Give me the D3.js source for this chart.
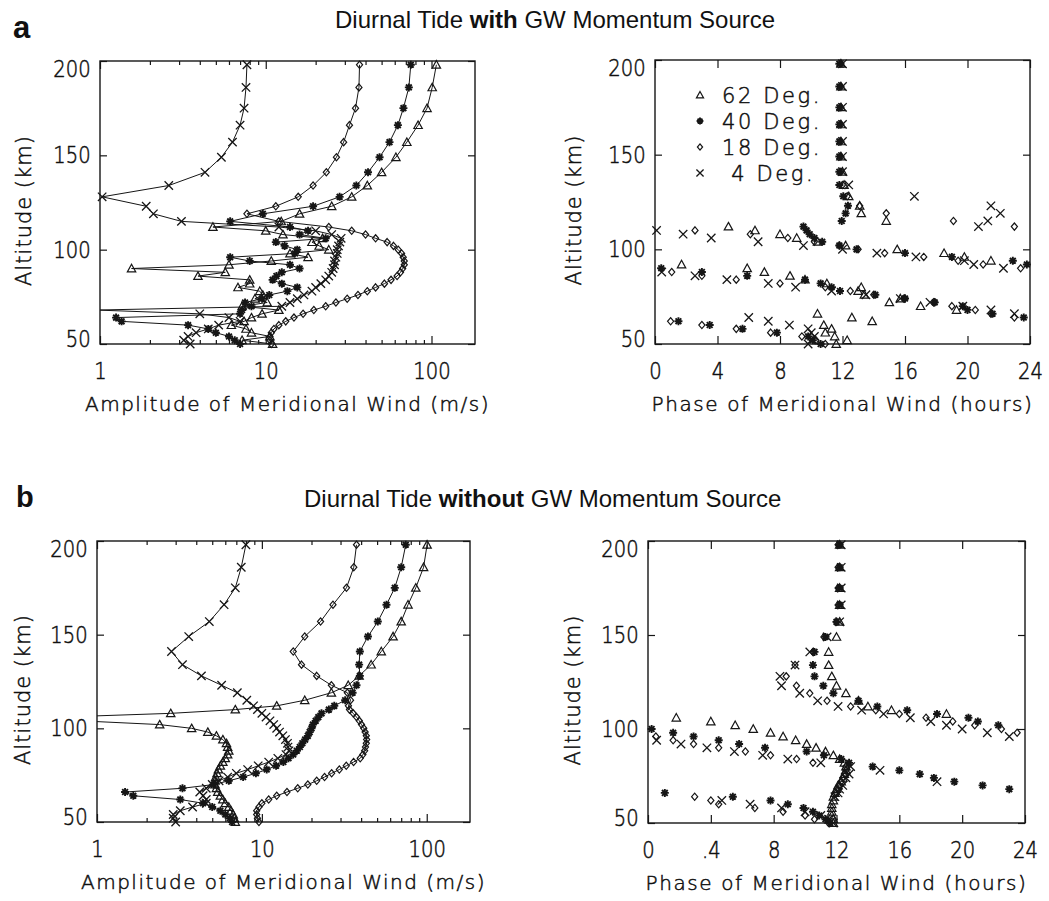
<!DOCTYPE html>
<html>
<head>
<meta charset="utf-8">
<script src="https://cdn.jsdelivr.net/npm/d3@7/dist/d3.min.js"></script>
<style>
  html, body { margin: 0; padding: 0; background: #ffffff; }
  svg { display: block; }
  .tick text { font-family: "DejaVu Sans", sans-serif; font-size: 23px; font-weight: 200; fill: #111; stroke: #111; stroke-width: 0.55px; }
  .axis-title { font-family: "DejaVu Sans", sans-serif; font-weight: 200; fill: #111; stroke: #111; stroke-width: 0.5px; }
  .legend text { font-family: "DejaVu Sans", sans-serif; font-size: 21px; font-weight: 200; fill: #111; stroke: #111; stroke-width: 0.5px; white-space: pre; }
  .panel-title { font-family: "Liberation Sans", Arial, sans-serif; fill: #111; }
</style>
</head>
<body>
<svg id="chart" width="1049" height="901"></svg>
<script>
// ---------------- DATA ----------------
const ALTITUDE = [50,52,54,56,58,60,62,64,66,68,70,72,74,76,78,80,82,84,86,88,90,92,94,96,98,100,102,104,106,108,110,112,115,119,123,128,134,141,149,157,166,175,186,198];

// (a) with GW momentum source: amplitude of meridional wind (m/s)
const AMP_A_62 = [11,7.2,10.6,8.2,7.6,6.2,7.4,8.2,9.5,12,7.2,10.2,8.6,9.6,9.2,6.8,8.0,8.0,3.9,5.7,1.55,6,10.8,18,14,24,21,19,22,12.7,10,4.8,12.4,16,25,33,41,50,61,71,83,94,101,107];
const AMP_A_40 = [7.0,6.5,6.0,5.0,4.5,3.4,1.35,1.25,7.0,7.2,8.2,7.5,9.5,10.5,13.5,15.5,12.5,11,11.6,12.5,16,14,8,6.1,15,15.5,13,11.5,23,16,18,14,6.1,9.6,19.3,27.9,35.2,41.4,48.6,55.8,62.7,67.7,73,75];
const AMP_A_18 = [10.8,10.6,10.6,10.8,11.2,12,13.2,14.8,16.8,19.5,23,26.5,31,36,41,46,52,57,62,65,67,68.5,68.5,67.5,66,63,59,54,46,40,33,24,12,7.7,11.5,15.7,19.3,23.2,26.7,29.5,32,34.8,36.5,36.8];
const AMP_A_4  = [3.5,3.2,3.4,3.8,4.5,5.2,7.0,6.0,4.0,0.95,12.5,14,15.5,17,19,20,21.5,23,24,25,25.5,26,26,26.5,27,27,27.5,28,28.5,25,20,12,3.1,2.1,1.9,1.03,2.6,4.3,5.4,6.3,7.0,7.4,7.6,7.7];

// (a) with GW momentum source: phase of meridional wind (hours)
const PH_A_62 = [11.6,12.3,11.5,10.9,11.3,10.8,13.9,12.6,10.4,19.3,17.0,15.0,15.7,13.4,13.0,13.2,11.0,9.6,8.64,7.0,5.9,1.7,21.5,19.8,18.5,15.5,12.2,10.4,9.07,8.0,6.4,4.7,14.8,13.2,13.1,12.4,12.1,12.0,11.9,11.9,11.9,11.9,11.9,11.9];
const PH_A_40 = [10.6,10.1,9.8,7.8,5.6,3.5,1.5,23.6,21.6,20.0,19.7,17.9,16.0,14.1,11.84,11.3,10.6,9.6,5.9,3.0,0.4,23.8,22.9,19.0,16.0,12.9,11.8,10.7,10.2,9.9,9.7,9.5,11.95,12.2,12.35,12.05,11.8,11.8,11.8,11.8,11.8,11.8,11.8,11.8];
const PH_A_18 = [10.9,10.3,9.4,7.4,5.2,3.0,1.0,23.0,21.5,20.5,19.0,17.9,16.0,14.0,12.5,10.9,8.0,5.2,3.0,1.07,23.4,21.0,19.4,17.2,14.7,13.0,11.8,10.2,8.5,6.1,2.56,23.0,19.1,14.8,13.1,12.3,12.0,11.9,11.9,11.9,11.9,11.9,11.9,11.9];
const PH_A_4  = [9.8,10.0,10.2,10.0,9.8,8.6,7.25,6.0,23.0,21.5,19.7,17.6,15.7,13.5,11.3,9.0,7.25,4.6,2.56,0.43,22.3,20.4,19.8,16.7,14.2,12.0,9.5,6.6,3.6,1.8,0.1,20.7,21.3,22.1,21.5,16.6,12.4,12.0,12.0,12.0,12.0,12.0,12.0,12.0];

// (b) without GW momentum source: amplitude (m/s)
const AMP_B_62 = [6.9,6.8,6.7,6.5,6.3,6.0,5.8,5.6,5.4,5.3,5.2,5.2,5.25,5.35,5.45,5.6,5.8,6.0,6.2,6.3,6.2,6.1,5.8,5.3,4.7,3.75,2.4,0.8,0.6,2.8,6.9,12.3,18.2,26.4,33.4,38.9,46,53,62.5,70,77,85.8,95.7,100.5];
const AMP_B_40 = [6.6,6.4,6.0,5.6,5.0,4.4,3.2,1.66,1.48,3.3,5.1,6.3,7.7,9.2,10.7,12.2,13.5,14.5,15.5,16.3,17.0,17.6,18.3,19.0,19.5,20.0,20.4,21.2,22.0,23.0,25.5,27.5,32.0,35.5,37.5,39.3,38.9,39.3,44,50.5,57,64,70,74.6];
const AMP_B_18 = [9.6,9.4,9.3,9.3,9.6,10,11,12.3,14.2,16.5,19,21.5,24,26.5,29.5,32.5,36,39.5,41,42,42.5,43,43.2,43,42.3,41.5,40.2,39,37.5,35.8,34,33.5,34.5,33,26.4,21.5,17.4,15.5,18.2,22.7,27,32.6,36.1,37.5];
const AMP_B_4  = [3.0,2.9,2.9,3.2,3.8,4.6,4.6,4.4,4.2,4.6,5.0,5.5,6.2,7.0,8.2,9.5,11.0,12.5,14.0,14.6,14.4,14.3,13.9,13.4,12.8,12.3,11.8,11.2,10.6,10.0,9.4,8.9,8.1,7.1,5.7,4.3,3.3,2.83,3.6,4.8,5.9,6.9,7.5,8.0];

// (b) without GW momentum source: phase (hours)
const PH_B_62 = [11.8,11.8,11.7,11.7,11.7,11.7,11.8,11.8,11.9,12.0,12.1,12.3,12.4,12.5,12.6,12.6,12.5,12.2,11.8,11.3,10.7,10.1,9.4,8.6,7.8,6.7,5.55,4.0,1.8,19.0,15.5,14.0,13.4,12.6,12.0,11.7,11.5,11.5,12.0,12.2,12.2,12.2,12.2,12.2];
const PH_B_40 = [11.6,11.3,10.9,10.5,9.9,8.9,7.8,5.4,1.07,23.0,21.3,19.5,18.2,17.3,16.0,14.3,12.8,12.3,11.2,10.1,7.45,5.8,4.5,2.9,1.6,0.23,22.3,21.0,20.4,18.4,16.5,14.6,13.4,11.8,11.16,10.6,10.5,10.6,11.3,12.0,12.2,12.2,12.2,12.2];
const PH_B_18 = [11.5,10.6,10.0,8.6,6.8,4.5,4.0,2.97,12.0,12.1,12.2,12.3,12.4,12.5,12.6,12.6,10.5,9.46,7.8,6.2,4.5,2.9,1.6,0.5,23.5,22.5,20.8,19.4,17.7,16.0,14.5,12.9,11.4,10.3,9.45,8.8,9.36,10.5,11.2,12.0,12.1,12.1,12.1,12.1];
const PH_B_4  = [11.8,11.5,11.0,10.0,8.5,6.5,4.7,11.9,12.1,12.2,12.4,18.4,12.6,12.8,14.77,12.9,11.0,8.9,7.3,5.5,3.75,2.1,0.55,23.0,21.6,20.0,19.0,18.0,16.7,15.0,13.6,12.1,10.8,9.66,8.5,8.4,9.36,10.3,11.4,12.2,12.3,12.3,12.3,12.3];

// axes & labels
const ALT_DOMAIN = [50, 200];
const ALT_TICKS = [50, 100, 150, 200];
const ALT_TICK_LABELS = ["50", "100", "150", "200"];
const AMP_DOMAIN = [1, 183];
const AMP_TICKS = [1, 10, 100];
const AMP_TICK_LABELS = ["1", "10", "100"];
const AMP_MINOR_TICKS = [2,3,4,5,6,7,8,9,20,30,40,50,60,70,80,90];
const PHASE_DOMAIN = [0, 24];
const PHASE_TICKS = [0, 4, 8, 12, 16, 20, 24];
const PHASE_TICK_LABELS_A = ["0", "4", "8", "12", "16", "20", "24"];
const PHASE_TICK_LABELS_B = ["0", ".4", "8", "12", "16", "20", "24"];
const SERIES_NAMES = ["62 Deg.", "40 Deg.", "18 Deg.", " 4 Deg."];
const AMP_AXIS_TITLE = "Amplitude of Meridional Wind (m/s)";
const PHASE_AXIS_TITLE = "Phase of Meridional Wind (hours)";
const ALT_AXIS_TITLE = "Altitude (km)";
const TITLE_A = ["Diurnal Tide ", "with", " GW Momentum Source"];
const TITLE_B = ["Diurnal Tide ", "without", " GW Momentum Source"];

// ---------------- STYLE / LAYOUT ----------------
const ink = "#161616";
const SHAPES = [
  { shape: "triangle", r: 4.2, w: 1.2 },
  { shape: "star", r: 4.0, w: 1.9 },
  { shape: "diamond", r: 3.6, w: 1.2 },
  { shape: "cross", r: 4.2, w: 1.3 }
];

function shapePath(shape, r) {
  if (shape === "triangle") return `M0,${-r}L${r},${r * 0.8}L${-r},${r * 0.8}Z`;
  if (shape === "diamond") return `M0,${-r}L${r * 0.85},0L0,${r}L${-r * 0.85},0Z`;
  if (shape === "cross") return `M${-r},${-r}L${r},${r}M${-r},${r}L${r},${-r}`;
  const a = r * 0.72;
  return `M0,${-r}V${r}M${-r},0H${r}M${-a},${-a}L${a},${a}M${-a},${a}L${a},${-a}`;
}

const PANELS = [
  { id: "aL", kind: "amp", x0: 100, x1: 475, yTop: 61, yBot: 344, data: [AMP_A_62, AMP_A_40, AMP_A_18, AMP_A_4], yTitleX: 31 },
  { id: "aR", kind: "phase", x0: 655, x1: 1030, yTop: 60, yBot: 344, data: [PH_A_62, PH_A_40, PH_A_18, PH_A_4], xLabels: PHASE_TICK_LABELS_A, legend: true, yTitleX: 581 },
  { id: "bL", kind: "amp", x0: 97, x1: 470, yTop: 541, yBot: 822, data: [AMP_B_62, AMP_B_40, AMP_B_18, AMP_B_4], yTitleX: 30 },
  { id: "bR", kind: "phase", x0: 648, x1: 1025, yTop: 541, yBot: 823, data: [PH_B_62, PH_B_40, PH_B_18, PH_B_4], xLabels: PHASE_TICK_LABELS_B, yTitleX: 580 }
];

const svg = d3.select("#chart");
svg.append("rect").attr("width", 1049).attr("height", 901).attr("fill", "#fff");

function styleAxis(sel) {
  sel.select(".domain").remove();
  sel.selectAll(".tick line").attr("stroke", ink).attr("stroke-width", 1.2);
  sel.selectAll(".tick text").attr("transform", "scale(0.85,1)");
}

function drawPanel(p) {
  const isAmp = p.kind === "amp";
  const x = isAmp
    ? d3.scaleLog().domain(AMP_DOMAIN).range([p.x0, p.x1])
    : d3.scaleLinear().domain(PHASE_DOMAIN).range([p.x0, p.x1]);
  const y = d3.scaleLinear().domain(ALT_DOMAIN).range([p.yBot, p.yTop]);
  const g = svg.append("g").attr("id", "panel-" + p.id);
  const clipId = "clip-" + p.id;
  g.append("clipPath").attr("id", clipId).append("rect")
    .attr("x", p.x0).attr("y", p.yTop).attr("width", p.x1 - p.x0).attr("height", p.yBot - p.yTop);

  const xt = isAmp ? AMP_TICKS : PHASE_TICKS;
  const xl = isAmp ? AMP_TICK_LABELS : p.xLabels;

  g.append("g").attr("transform", `translate(0,${p.yBot})`)
    .call(d3.axisBottom(x).tickValues(xt).tickFormat((d, i) => xl[i]).tickSizeInner(-8).tickSizeOuter(0).tickPadding(19))
    .call(styleAxis);
  g.append("g").attr("transform", `translate(0,${p.yTop})`)
    .call(d3.axisTop(x).tickValues(xt).tickFormat("").tickSizeInner(-8).tickSizeOuter(0))
    .call(styleAxis);
  if (isAmp) {
    g.append("g").attr("transform", `translate(0,${p.yBot})`)
      .call(d3.axisBottom(x).tickValues(AMP_MINOR_TICKS).tickFormat("").tickSizeInner(-4).tickSizeOuter(0))
      .call(styleAxis);
    g.append("g").attr("transform", `translate(0,${p.yTop})`)
      .call(d3.axisTop(x).tickValues(AMP_MINOR_TICKS).tickFormat("").tickSizeInner(-4).tickSizeOuter(0))
      .call(styleAxis);
  }
  const last = ALT_TICKS[ALT_TICKS.length - 1], first = ALT_TICKS[0];
  g.append("g").attr("transform", `translate(${p.x0},0)`)
    .call(d3.axisLeft(y).tickValues(ALT_TICKS).tickFormat((d, i) => ALT_TICK_LABELS[i]).tickSizeInner(-7).tickSizeOuter(0).tickPadding(11))
    .call(styleAxis)
    .call(s => s.selectAll(".tick text").attr("y", d => d === last ? 8 : d === first ? -5 : 0));
  g.append("g").attr("transform", `translate(${p.x1},0)`)
    .call(d3.axisRight(y).tickValues(ALT_TICKS).tickFormat("").tickSizeInner(-7).tickSizeOuter(0))
    .call(styleAxis);

  g.append("rect").attr("x", p.x0).attr("y", p.yTop).attr("width", p.x1 - p.x0).attr("height", p.yBot - p.yTop)
    .attr("fill", "none").attr("stroke", ink).attr("stroke-width", 1.4);

  // series
  const [dmin, dmax] = x.domain();
  p.data.forEach((vals, si) => {
    const sh = SHAPES[si];
    const pts = ALTITUDE.map((a, j) => ({ a: a, v: vals[j] }));
    if (isAmp) {
      g.append("path")
        .attr("clip-path", `url(#${clipId})`)
        .attr("d", d3.line().x(d => x(d.v)).y(d => y(d.a))(pts))
        .attr("fill", "none").attr("stroke", ink).attr("stroke-width", 1);
    }
    g.append("g").selectAll("path")
      .data(pts.filter(d => d.v >= dmin && d.v <= dmax))
      .join("path")
      .attr("transform", d => `translate(${x(d.v)},${y(d.a)})`)
      .attr("d", shapePath(sh.shape, sh.r))
      .attr("fill", "none").attr("stroke", ink).attr("stroke-width", sh.w);
  });

  // axis titles
  g.append("text").attr("class", "axis-title")
    .attr("x", (p.x0 + p.x1) / 2).attr("y", p.yBot + 67)
    .attr("text-anchor", "middle").attr("font-size", 20)
    .attr("letter-spacing", isAmp ? 1.5 : 1.6)
    .text(isAmp ? AMP_AXIS_TITLE : PHASE_AXIS_TITLE);
  g.append("text").attr("class", "axis-title")
    .attr("transform", `translate(${p.yTitleX},${(p.yTop + p.yBot) / 2 + 8}) rotate(-90)`)
    .attr("text-anchor", "middle").attr("font-size", 21).attr("letter-spacing", 1)
    .text(ALT_AXIS_TITLE);

  if (p.legend) {
    const lg = g.append("g").attr("class", "legend");
    const rowY = d3.scalePoint().domain(SERIES_NAMES).range([p.yTop + 35, p.yTop + 113]);
    SERIES_NAMES.forEach((name, si) => {
      const sh = SHAPES[si];
      lg.append("path")
        .attr("transform", `translate(${p.x0 + 45},${rowY(name)})`)
        .attr("d", shapePath(sh.shape, sh.r * 0.85))
        .attr("fill", "none").attr("stroke", ink).attr("stroke-width", sh.w);
      lg.append("text")
        .attr("x", p.x0 + 67).attr("y", rowY(name) + 8)
        .attr("letter-spacing", 2.6)
        .text(name);
    });
  }
}

PANELS.forEach(drawPanel);

// panel titles and letters
function drawTitle(parts, x, yBase, letter, letterX, letterSize) {
  const t = svg.append("text").attr("class", "panel-title").attr("x", x).attr("y", yBase).attr("font-size", 24);
  parts.forEach((s, i) => t.append("tspan").attr("font-weight", i === 1 ? "bold" : "normal").text(s));
  svg.append("text").attr("class", "panel-title").attr("x", letterX).attr("y", yBase + (letter === "a" ? 10 : 0))
    .attr("font-size", letterSize).attr("font-weight", "bold").text(letter);
}
drawTitle(TITLE_A, 335, 28, "a", 13, 31);
drawTitle(TITLE_B, 304, 507, "b", 16, 29);
</script>
</body>
</html>
